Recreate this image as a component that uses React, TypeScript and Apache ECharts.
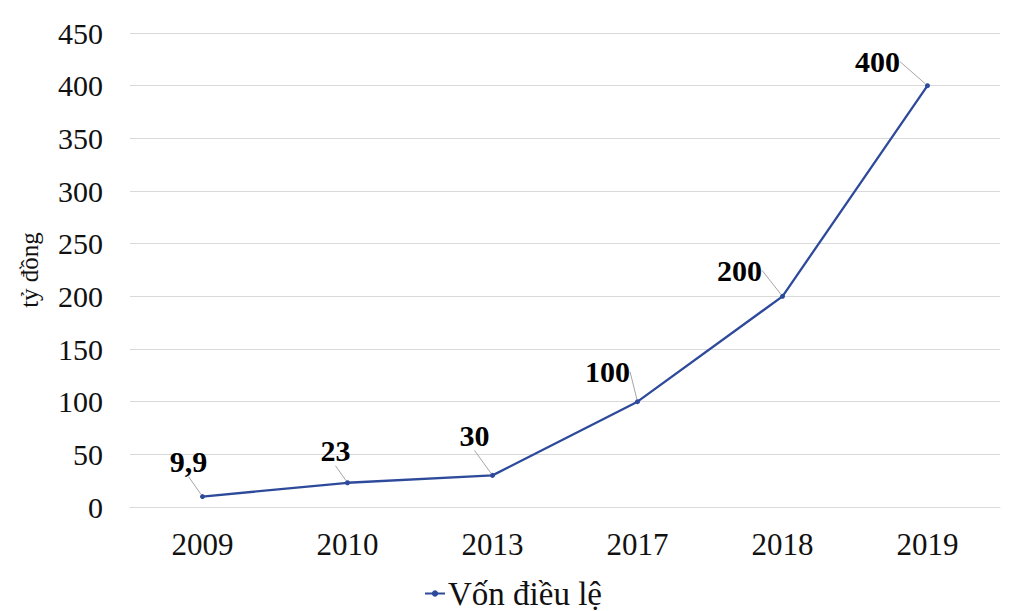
import React, { useEffect, useRef } from "react";
import * as echarts from "echarts";

const categories = ["2009", "2010", "2013", "2017", "2018", "2019"];
const values = [9.9, 23, 30, 100, 200, 400];
const valueLabels = ["9,9", "23", "30", "100", "200", "400"];
const labelOffsetX = [-14, -12, -18, -30, -43, -50];
const labelOffsetY = [-35, -32, -40, -30, -26, -24];
const seriesName = "Vốn điều lệ";
const yAxisName = "tỷ đồng";

const FONT = "'Liberation Serif', 'Times New Roman', serif";

export default function App() {
  const ref = useRef<HTMLDivElement>(null);
  useEffect(() => {
    if (!ref.current) return;
    const chart = echarts.init(ref.current, undefined, { renderer: "svg" });
    chart.setOption({
      animation: false,
      backgroundColor: "#ffffff",
      textStyle: { fontFamily: FONT },
      grid: { left: 130, right: 26, top: 33, bottom: 104 },
      legend: {
        top: 572,
        left: "center",
        itemWidth: 20,
        itemHeight: 8,
        itemGap: 4,
        textStyle: { fontFamily: FONT, fontSize: 33, color: "#111", padding: [0, 0, 0, -2] },
        data: [seriesName],
      },
      xAxis: {
        type: "category",
        data: categories,
        boundaryGap: true,
        axisLine: { show: true, lineStyle: { color: "#d9d9d9" } },
        axisTick: { show: false },
        axisLabel: { fontFamily: FONT, fontSize: 31, color: "#111", margin: 22 },
      },
      yAxis: {
        type: "value",
        min: 0,
        max: 450,
        interval: 50,
        name: yAxisName,
        nameLocation: "middle",
        nameGap: 88,
        nameRotate: 90,
        nameTextStyle: { fontFamily: FONT, fontSize: 25, color: "#111" },
        axisLine: { show: false },
        axisTick: { show: false },
        axisLabel: { fontFamily: FONT, fontSize: 30, color: "#111", margin: 27 },
        splitLine: { lineStyle: { color: "#d9d9d9", width: 1 } },
      },
      series: [
        {
          name: seriesName,
          type: "line",
          data: values,
          color: "#2E4A9B",
          lineStyle: { color: "#2E4A9B", width: 2.3 },
          symbol: "circle",
          symbolSize: 5,
          itemStyle: { color: "#2E4A9B" },
          label: {
            show: true,
            position: "inside",
            fontFamily: FONT,
            fontSize: 30,
            fontWeight: "bold",
            color: "#000",
            formatter: (p: any) => valueLabels[p.dataIndex],
          },
          labelLine: {
            show: true,
            lineStyle: { color: "#a6a6a6", width: 1 },
          },
          labelLayout: (p: any) => ({
            dx: labelOffsetX[p.dataIndex],
            dy: labelOffsetY[p.dataIndex],
          }),
        },
      ],
    });
    return () => chart.dispose();
  }, []);
  return (
    <div
      ref={ref}
      style={{ position: "fixed", left: 0, top: 0, width: 1026, height: 611 }}
    />
  );
}
